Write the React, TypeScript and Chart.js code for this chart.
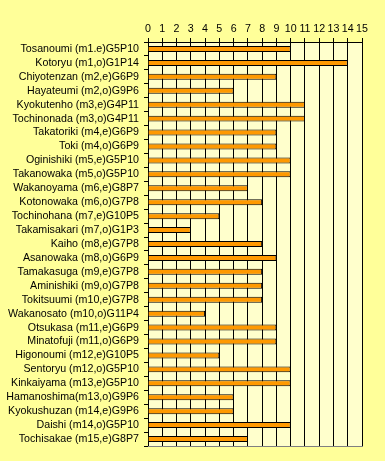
import React, { useEffect, useRef } from "react";
import { Chart, registerables } from "chart.js";

Chart.register(...registerables);

const categories: string[] = [
  "Tosanoumi (m1.e)G5P10",
  "Kotoryu (m1,o)G1P14",
  "Chiyotenzan (m2,e)G6P9",
  "Hayateumi (m2,o)G9P6",
  "Kyokutenho (m3,e)G4P11",
  "Tochinonada (m3,o)G4P11",
  "Takatoriki (m4,e)G6P9",
  "Toki (m4,o)G6P9",
  "Oginishiki (m5,e)G5P10",
  "Takanowaka (m5,o)G5P10",
  "Wakanoyama (m6,e)G8P7",
  "Kotonowaka (m6,o)G7P8",
  "Tochinohana (m7,e)G10P5",
  "Takamisakari (m7,o)G1P3",
  "Kaiho (m8,e)G7P8",
  "Asanowaka (m8,o)G6P9",
  "Tamakasuga (m9,e)G7P8",
  "Aminishiki (m9,o)G7P8",
  "Tokitsuumi (m10,e)G7P8",
  "Wakanosato (m10,o)G11P4",
  "Otsukasa (m11,e)G6P9",
  "Minatofuji (m11,o)G6P9",
  "Higonoumi (m12,e)G10P5",
  "Sentoryu (m12,o)G5P10",
  "Kinkaiyama (m13,e)G5P10",
  "Hamanoshima(m13,o)G9P6",
  "Kyokushuzan (m14,e)G9P6",
  "Daishi (m14,o)G5P10",
  "Tochisakae (m15,e)G8P7",
];

const points: number[] = [
  10, 14, 9, 6, 11, 11, 9, 9, 10, 10, 7, 8, 5, 3, 8, 9, 8, 8, 8, 4, 9, 9, 5, 10, 10, 6, 6, 10, 7,
];

const xMin = 0;
const xMax = 15;

const bgPlugin = {
  id: "bgPlugin",
  beforeDraw(chart: any) {
    const { ctx, chartArea, width, height } = chart;
    ctx.save();
    ctx.fillStyle = "#FFFF99";
    ctx.fillRect(0, 0, width, height);
    ctx.fillStyle = "#FFFFCC";
    ctx.fillRect(chartArea.left, chartArea.top, chartArea.right - chartArea.left, chartArea.bottom - chartArea.top);
    ctx.restore();
  },
  afterDraw(chart: any) {
    const { ctx, chartArea } = chart;
    ctx.save();
    ctx.strokeStyle = "#808080";
    ctx.lineWidth = 1;
    ctx.beginPath();
    ctx.moveTo(chartArea.left, Math.round(chartArea.bottom) + 0.5);
    ctx.lineTo(chartArea.right + 1, Math.round(chartArea.bottom) + 0.5);
    ctx.stroke();
    ctx.restore();
  },
};

const font = { family: "'Liberation Sans', Arial, sans-serif", size: 10.67 };

export default function App() {
  const ref = useRef<HTMLCanvasElement | null>(null);

  useEffect(() => {
    if (!ref.current) return;
    const chart = new Chart(ref.current, {
      type: "bar",
      data: {
        labels: categories,
        datasets: [
          {
            data: points,
            backgroundColor: "#FF9900",
            borderColor: "#000000",
            borderWidth: 1,
            barPercentage: 0.43,
            categoryPercentage: 1,
          },
        ],
      },
      options: {
        indexAxis: "y",
        animation: false,
        responsive: false,
        maintainAspectRatio: false,
        layout: { padding: { left: 0, right: 23, top: 0, bottom: 15 } },
        plugins: {
          legend: { display: false },
          tooltip: { enabled: false },
        },
        scales: {
          x: {
            position: "top",
            min: xMin,
            max: xMax,
            ticks: {
              stepSize: 1,
              color: "#000000",
              font,
              padding: 3,
              maxRotation: 0,
              autoSkip: false,
            },
            grid: {
              color: "#000000",
              lineWidth: 1,
              tickLength: 4,
              drawTicks: true,
            },
            border: { color: "#000000", width: 1 },
            afterFit(scale: any) {
              scale.height = 42;
            },
          },
          y: {
            type: "category",
            offset: true,
            ticks: {
              color: "#000000",
              font,
              padding: 5,
              autoSkip: false,
            },
            grid: {
              offset: true,
              drawOnChartArea: false,
              color: "#000000",
              tickLength: 4,
            },
            border: { color: "#000000", width: 1 },
            afterFit(scale: any) {
              scale.width = 148;
            },
          },
        },
      },
      plugins: [bgPlugin],
    });
    return () => chart.destroy();
  }, []);

  return (
    <div style={{ position: "fixed", left: 0, top: 0, width: 385, height: 461, background: "#FFFF99" }}>
      <canvas ref={ref} width={385} height={461} style={{ display: "block", width: 385, height: 461 }} />
    </div>
  );
}
